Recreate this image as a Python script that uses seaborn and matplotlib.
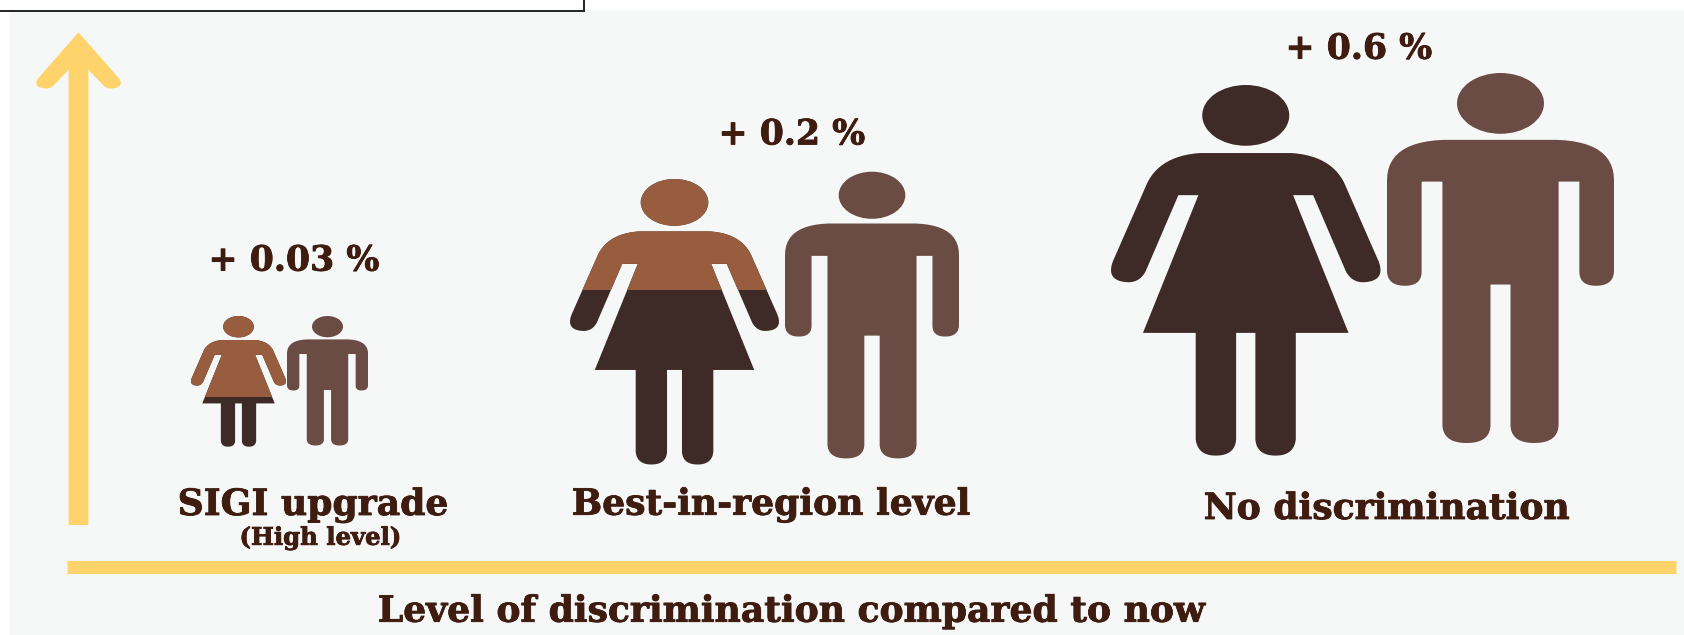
import numpy as np
import pandas as pd
import matplotlib
matplotlib.use("Agg")
import matplotlib.pyplot as plt
import matplotlib.patheffects as pe
from matplotlib.patches import Polygon, Ellipse, Rectangle
import seaborn as sns

# ---- data ----
levels = ["SIGI upgrade", "Best-in-region level", "No discrimination"]
sublabels = ["(High level)", "", ""]
gains = ["+ 0.03 %", "+ 0.2 %", "+ 0.6 %"]
x_title = "Level of discrimination compared to now"

# ---- layout in reference pixels ----
woman_boxes = [(191, 286, 316, 446.7), (570, 779, 179, 464.5), (1111, 1380.5, 85, 455.6)]
man_boxes = [(287, 368, 316, 445.5), (785, 959, 171.7, 458.4), (1387, 1614, 73, 443)]
woman_split = [397, 290.4, None]     # copper above this y
gain_pos = [(196, 392, 270.6), (709, 875, 144.4), (1276, 1442, 58.7)]
level_pos = [(172, 454, 515), (566, 977, 514.7), (1196, 1578, 519)]

YELLOW = "#FFD36B"
COPPER = "#985C3F"
DARK = "#3E2B27"
MAN = "#6A4C45"
TEXT = "#3F1C10"
PANEL = "#F6F8F7"

sns.set_theme(style="white", rc={"font.family": ["DejaVu Serif"]})
W, H = 1684, 635
fig = plt.figure(figsize=(W / 100, H / 100), dpi=100, facecolor="white")
ax = fig.add_axes([0, 0, 1, 1])
ax.set_xlim(0, W)
ax.set_ylim(H, 0)
ax.axis("off")


def outline(half, cx):
    """Sample a half outline of lines and quadratic curves, then mirror it."""
    pts = [np.array(half[0], float)]
    for seg in half[1:]:
        if len(seg) == 2:
            pts.append(np.array(seg, float))
        else:
            p0, c, p1 = pts[-1], np.array(seg[:2], float), np.array(seg[2:], float)
            for t in np.linspace(0, 1, 14)[1:]:
                pts.append((1 - t) ** 2 * p0 + 2 * t * (1 - t) * c + t ** 2 * p1)
    pts = np.array(pts)
    mir = pts[::-1].copy()
    mir[:, 0] = 2 * cx - mir[:, 0]
    return np.vstack([pts, mir])


woman_half = [(430, 378), (550, 378), (650, 385, 685, 450), (775, 645),
              (795, 695, 735, 697), (705, 697, 690, 670), (605, 482), (553, 482),
              (697, 822), (560, 822), (560, 1085), (555, 1125, 508, 1125),
              (458, 1125, 455, 1085), (455, 822), (430, 822)]
man_half = [(1092, 345), (1240, 345), (1387, 350, 1387, 445), (1387, 670),
            (1385, 705, 1340, 705), (1297, 705, 1297, 670), (1297, 448), (1243, 448),
            (1243, 1050), (1240, 1093, 1180, 1093), (1120, 1093, 1118, 1050),
            (1118, 702), (1092, 702)]
woman_shape = outline(woman_half, 430)
man_shape = outline(man_half, 1092)
woman_ref = (80, 780, 210, 1125, (430, 285, 113, 75))
man_ref = (797, 1387, 180, 1093, (1092, 255, 113, 75))


def figure_patches(shape, ref, box, color, clip=None):
    x0, x1, y0, y1, (hx, hy, rx, ry) = ref
    bx0, bx1, by0, by1 = box
    sx, sy = (bx1 - bx0) / (x1 - x0), (by1 - by0) / (y1 - y0)
    pts = np.column_stack([bx0 + (shape[:, 0] - x0) * sx, by0 + (shape[:, 1] - y0) * sy])
    body = Polygon(pts, closed=True, fc=color, ec="none", zorder=3)
    head = Ellipse((bx0 + (hx - x0) * sx, by0 + (hy - y0) * sy), 2 * rx * sx, 2 * ry * sy,
                   fc=color, ec="none", zorder=3)
    for p in (body, head):
        ax.add_patch(p)
        if clip is not None:
            p.set_clip_path(clip)
            p.set_zorder(4)


def label(s, x0, x1, baseline, size):
    t = ax.text((x0 + x1) / 2, baseline, s, ha="center", va="baseline", color=TEXT,
                fontweight="bold", fontsize=size, family="DejaVu Serif", zorder=5)
    t.set_path_effects([pe.withStroke(linewidth=0.6, foreground=TEXT)])
    return t


# panel and top box
ax.add_patch(Rectangle((10, 10), W - 10, H - 10, fc=PANEL, ec="none", zorder=0))
ax.add_patch(Rectangle((-5, -5), 588.5, 15.5, fc="white", ec="#222222", lw=1.4, zorder=1))

# axes drawn as thick yellow lines
bars = pd.DataFrame({"x": [66.6, 1676], "y": [566.5, 566.5]})
sns.lineplot(data=bars, x="x", y="y", ax=ax, color=YELLOW, lw=9.4, estimator=None,
             solid_capstyle="butt", zorder=2, legend=False)
ax.set_xlim(0, W)
ax.set_ylim(H, 0)
ax.axis("off")

arrow_half = [(78.5, 525), (88.4, 525), (88.4, 69.7), (102, 84), (106, 89, 112, 88.5),
              (124, 87, 119.5, 79), (78.5, 32.4)]
ax.add_patch(Polygon(outline(arrow_half, 78.5), closed=True, fc=YELLOW, ec="none", zorder=2))

# pictograms
for wb, mb, split in zip(woman_boxes, man_boxes, woman_split):
    figure_patches(man_shape, man_ref, mb, MAN)
    figure_patches(woman_shape, woman_ref, wb, DARK)
    if split is not None:
        clip = Rectangle((wb[0] - 5, wb[2] - 5), wb[1] - wb[0] + 10, split - wb[2] + 5,
                         transform=ax.transData)
        figure_patches(woman_shape, woman_ref, wb, COPPER, clip=clip)

# text
for g, (x0, x1, b) in zip(gains, gain_pos):
    label(g, x0, x1, b, 25)
for lab, (x0, x1, b) in zip(levels, level_pos):
    label(lab, x0, x1, b, 26)
label(sublabels[0], 235, 405.6, 544.8, 17.5)
label(x_title, 351, 1233, 621.7, 26)

fig.savefig("out.png", dpi=100, facecolor="white")
